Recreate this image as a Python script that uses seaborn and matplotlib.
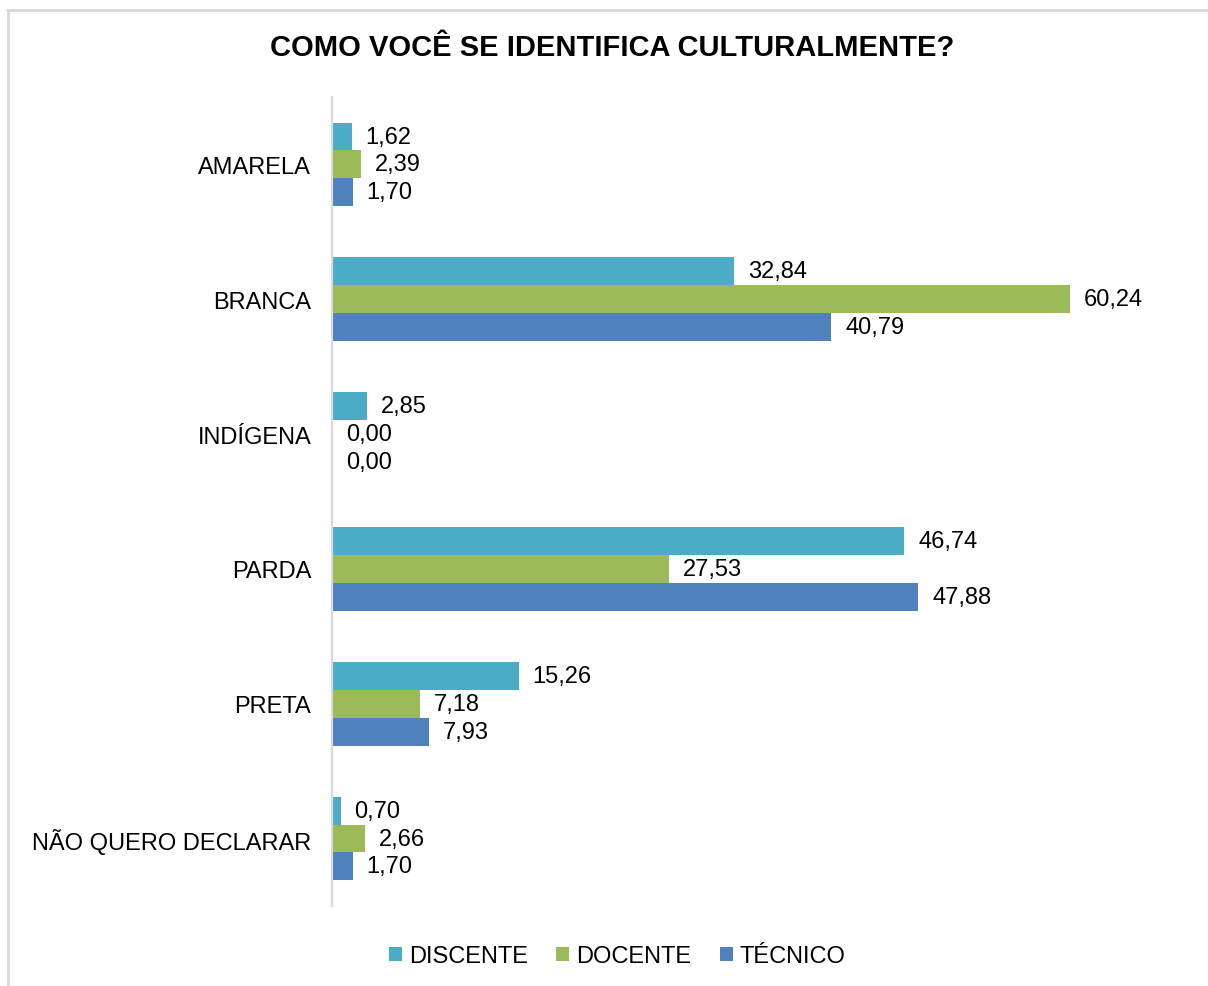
import pandas as pd
import matplotlib
matplotlib.use("Agg")
import matplotlib.pyplot as plt
from matplotlib.lines import Line2D
from matplotlib.patches import Patch
import seaborn as sns

# chart data
CATEGORIAS = ["AMARELA", "BRANCA", "INDÍGENA", "PARDA", "PRETA", "NÃO QUERO DECLARAR"]
GRUPOS = ["DISCENTE", "DOCENTE", "TÉCNICO"]
DISCENTE = [1.62, 32.84, 2.85, 46.74, 15.26, 0.70]
DOCENTE = [2.39, 60.24, 0.00, 27.53, 7.18, 2.66]
TECNICO = [1.70, 40.79, 0.00, 47.88, 7.93, 1.70]
CORES = ["#4BACC6", "#9BBB59", "#4F81BD"]

TITULO = "COMO VOCÊ SE IDENTIFICA CULTURALMENTE?"


# build long-form dataframe for seaborn
def build_df():
    rows = []
    for grupo, valores in zip(GRUPOS, [DISCENTE, DOCENTE, TECNICO]):
        for cat, v in zip(CATEGORIAS, valores):
            rows.append({"categoria": cat, "grupo": grupo, "valor": v})
    return pd.DataFrame(rows)


def main():
    sns.set_style("white")
    plt.rcParams["font.family"] = ["Liberation Sans", "DejaVu Sans"]
    plt.rcParams["text.color"] = "#000000"

    df = build_df()

    fig = plt.figure(figsize=(12.08, 9.87), dpi=100)
    ax = fig.add_axes([0.2748, 0.0811, 0.7095, 0.8196])

    sns.barplot(data=df, y="categoria", x="valor", hue="grupo",
                order=CATEGORIAS, hue_order=GRUPOS, palette=CORES,
                orient="h", width=0.62, saturation=1, legend=False,
                linewidth=0, ax=ax)

    ax.set_xlim(0, 70)
    ax.set_ylim(len(CATEGORIAS) - 0.5, -0.5)
    ax.set_xlabel("")
    ax.set_ylabel("")
    ax.set_xticks([])
    ax.tick_params(axis="y", length=0, pad=15, labelsize=17, labelcolor="#000000")

    for side in ["top", "right", "bottom"]:
        ax.spines[side].set_visible(False)
    ax.spines["left"].set_color("#d9d9d9")
    ax.spines["left"].set_linewidth(1.6)

    # value labels with comma decimals
    for cont in ax.containers:
        labels = [f"{b.get_width():.2f}".replace(".", ",") for b in cont]
        ax.bar_label(cont, labels=labels, padding=10, fontsize=17, color="#000000")

    fig.text(0.507, 0.951, TITULO, ha="center", va="center", fontsize=21,
             fontweight="bold", color="#000000",
             family=["Liberation Sans Narrow", "Liberation Sans"])

    handles = [Patch(facecolor=c, edgecolor="none") for c in CORES]
    fig.legend(handles, GRUPOS, loc="center", bbox_to_anchor=(0.511, 0.030),
               ncol=3, frameon=False, fontsize=17, handlelength=0.55,
               handleheight=0.55, handletextpad=0.3, columnspacing=1.2,
               labelcolor="#000000")

    # outer frame lines
    fig.add_artist(Line2D([0.0058, 1.0], [0.9889, 0.9889], transform=fig.transFigure,
                          color="#d9d9d9", linewidth=2))
    fig.add_artist(Line2D([0.0066, 0.0066], [0.0, 0.9889], transform=fig.transFigure,
                          color="#d9d9d9", linewidth=2))

    fig.savefig("out.png", dpi=100)
    plt.close(fig)


main()
